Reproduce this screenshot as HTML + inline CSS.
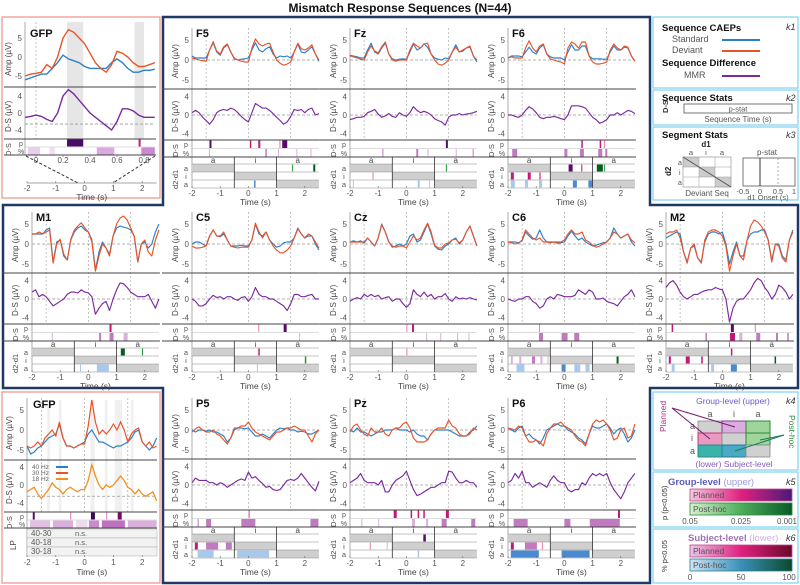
<!DOCTYPE html>
<html><head><meta charset="utf-8"><style>
body{margin:0;background:#fff;}
svg{display:block;font-family:"Liberation Sans",sans-serif;}
</style></head><body>
<svg id="fig" width="800" height="585" viewBox="0 0 800 585" xmlns="http://www.w3.org/2000/svg">
<defs>
<linearGradient id="gPlan" x1="0" x2="1"><stop offset="0" stop-color="#f6c8e0"/><stop offset="0.5" stop-color="#e0207e"/><stop offset="1" stop-color="#4a1a7a"/></linearGradient>
<linearGradient id="gPost" x1="0" x2="1"><stop offset="0" stop-color="#d8f0d0"/><stop offset="0.5" stop-color="#4cae5a"/><stop offset="1" stop-color="#0a5a2a"/></linearGradient>
<linearGradient id="sPlan" x1="0" x2="1"><stop offset="0" stop-color="#e8c8ec"/><stop offset="0.5" stop-color="#e0207e"/><stop offset="1" stop-color="#6a0a2a"/></linearGradient>
<linearGradient id="sPost" x1="0" x2="1"><stop offset="0" stop-color="#d0e4f4"/><stop offset="0.5" stop-color="#3a90b8"/><stop offset="1" stop-color="#0a4a2a"/></linearGradient>
</defs>
<text x="400" y="12" text-anchor="middle" font-size="12" font-weight="bold" fill="#111">Mismatch Response Sequences (N=44)</text>
<path d="M163,17 H650 V205 H798 V388 H650 V583 H163 V388 H3 V205 H163 Z" fill="none" stroke="#1f3864" stroke-width="2.5"/>
<rect x="2" y="17" width="158" height="181" fill="none" stroke="#f4a6a0" stroke-width="1.5"/>
<rect x="2" y="392" width="158" height="191" fill="none" stroke="#f4a6a0" stroke-width="1.5"/>

<g>
<rect x="653" y="17" width="145" height="71" fill="none" stroke="#7fd3f0" stroke-width="1.2"/>
<text x="662" y="31" font-size="9.5" font-weight="bold" fill="#111">Sequence CAEPs</text>
<text x="672" y="42" font-size="9" fill="#555">Standard</text>
<line x1="722" y1="40" x2="760" y2="40" stroke="#2a7fc9" stroke-width="2"/>
<text x="672" y="53" font-size="9" fill="#555">Deviant</text>
<line x1="722" y1="51" x2="760" y2="51" stroke="#e8542a" stroke-width="2"/>
<text x="662" y="66" font-size="9.5" font-weight="bold" fill="#111">Sequence Difference</text>
<text x="684" y="78" font-size="9" fill="#555">MMR</text>
<line x1="722" y1="76" x2="760" y2="76" stroke="#7b2a9e" stroke-width="2"/>
<text x="786" y="30" font-size="9" font-style="italic" fill="#333">k1</text>
</g>
<g>
<rect x="653" y="90" width="145" height="35" fill="none" stroke="#7fd3f0" stroke-width="1.2"/>
<text x="662" y="101" font-size="9.5" font-weight="bold" fill="#111">Sequence Stats</text>
<text x="786" y="101" font-size="9" font-style="italic" fill="#333">k2</text>
<rect x="684" y="104" width="108" height="9" fill="#fff" stroke="#555" stroke-width="0.8"/>
<text x="738" y="111.5" font-size="7.5" text-anchor="middle" fill="#555">p-stat</text>
<text transform="translate(668,113) rotate(-90)" font-size="7.5" font-weight="bold" fill="#333">D-S</text>
<text x="738" y="122" font-size="8" text-anchor="middle" fill="#555">Sequence Time (s)</text>
</g>
<g>
<rect x="653" y="127" width="145" height="73" fill="none" stroke="#7fd3f0" stroke-width="1.2"/>
<text x="662" y="138" font-size="9.5" font-weight="bold" fill="#111">Segment Stats</text>
<text x="786" y="138" font-size="9" font-style="italic" fill="#333">k3</text>
<text x="706" y="147" font-size="8" font-weight="bold" text-anchor="middle" fill="#222">d1</text>
<text x="691" y="155" font-size="7.5" text-anchor="middle" fill="#555">a</text>
<text x="706" y="155" font-size="7.5" text-anchor="middle" fill="#555">i</text>
<text x="722" y="155" font-size="7.5" text-anchor="middle" fill="#555">a</text>
<rect x="683" y="157" width="16" height="10" fill="#ccc"/><rect x="699" y="167" width="16" height="10" fill="#ccc"/><rect x="715" y="177" width="16" height="10" fill="#ccc"/>
<rect x="683" y="157" width="48" height="30" fill="none" stroke="#888" stroke-width="0.6"/>
<line x1="683" y1="167" x2="731" y2="167" stroke="#999" stroke-width="0.5"/><line x1="683" y1="177" x2="731" y2="177" stroke="#999" stroke-width="0.5"/>
<line x1="699" y1="157" x2="699" y2="187" stroke="#999" stroke-width="0.5"/><line x1="715" y1="157" x2="715" y2="187" stroke="#999" stroke-width="0.5"/>
<line x1="683" y1="157" x2="731" y2="187" stroke="#555" stroke-width="1"/>
<text transform="translate(671,176) rotate(-90)" font-size="8" font-weight="bold" fill="#222">d2</text>
<text x="678" y="165" font-size="7" fill="#555">a</text><text x="679" y="175" font-size="7" fill="#555">i</text><text x="678" y="185" font-size="7" fill="#555">a</text>
<text x="707" y="196" font-size="8" text-anchor="middle" fill="#555">Deviant Seq</text>
<text x="767" y="155" font-size="8" text-anchor="middle" fill="#555">p-stat</text>
<rect x="743" y="158" width="52" height="28" fill="#fff" stroke="#555" stroke-width="0.8"/>
<line x1="760" y1="158" x2="760" y2="186" stroke="#333" stroke-width="1"/>
<line x1="778" y1="158" x2="778" y2="186" stroke="#888" stroke-width="0.7" stroke-dasharray="2,2"/>
<text x="743" y="194" font-size="7.5" text-anchor="middle" fill="#555">-0.5</text><text x="760" y="194" font-size="7.5" text-anchor="middle" fill="#555">0</text><text x="778" y="194" font-size="7.5" text-anchor="middle" fill="#555">0.5</text><text x="794" y="194" font-size="7.5" text-anchor="middle" fill="#555">1</text>
<text x="768" y="200" font-size="7.5" text-anchor="middle" fill="#555">d1 Onset (s)</text>
</g>
<g>
<rect x="653" y="392" width="145" height="78" fill="none" stroke="#7fd3f0" stroke-width="1.2"/>
<text x="733" y="404" font-size="8.5" text-anchor="middle" fill="#6a5ac8">Group-level (upper)</text>
<text x="786" y="404" font-size="9" font-style="italic" fill="#333">k4</text>
<text x="710" y="417" font-size="9" text-anchor="middle" fill="#555">a</text><text x="734" y="417" font-size="9" text-anchor="middle" fill="#555">i</text><text x="758" y="417" font-size="9" text-anchor="middle" fill="#555">a</text>
<rect x="698" y="421" width="24" height="12" fill="#d0d0d0" stroke="#888" stroke-width="0.8"/>
<rect x="722" y="421" width="24" height="12" fill="#d9aedf" stroke="#8a3a9a" stroke-width="1"/>
<rect x="746" y="421" width="24" height="12" fill="#9fd49a" stroke="#2a8a3a" stroke-width="1"/>
<rect x="698" y="433" width="24" height="12" fill="#e99ac2" stroke="#d0307a" stroke-width="1"/>
<rect x="722" y="433" width="24" height="12" fill="#d0d0d0" stroke="#888" stroke-width="0.8"/>
<rect x="746" y="433" width="24" height="12" fill="#9fd49a" stroke="#2a8a3a" stroke-width="1"/>
<rect x="698" y="445" width="24" height="12" fill="#3ab4a8" stroke="#2a8a8a" stroke-width="1"/>
<rect x="722" y="445" width="24" height="12" fill="#4aaac4" stroke="#2a7a9a" stroke-width="1"/>
<rect x="746" y="445" width="24" height="12" fill="#d0d0d0" stroke="#888" stroke-width="0.8"/>
<text x="690" y="429" font-size="9" fill="#555">a</text><text x="691" y="441" font-size="9" fill="#555">i</text><text x="690" y="454" font-size="9" fill="#555">a</text>
<text transform="translate(666,432) rotate(-90)" font-size="8.5" fill="#b0308a">Planned</text>
<text transform="translate(789,415) rotate(90)" font-size="8.5" fill="#2a8a3a">Post-hoc</text>
<line x1="672" y1="408" x2="735" y2="427" stroke="#7a1a6a" stroke-width="1"/>
<line x1="672" y1="408" x2="710" y2="439" stroke="#7a1a6a" stroke-width="1"/>
<line x1="784" y1="435" x2="760" y2="440" stroke="#1a7a5a" stroke-width="1"/>
<line x1="784" y1="435" x2="735" y2="451" stroke="#1a7a5a" stroke-width="1"/>
<text x="734" y="467" font-size="8.5" text-anchor="middle" fill="#8a5ab8">(lower) Subject-level</text>
</g>
<g>
<rect x="653" y="472" width="145" height="55" fill="none" stroke="#7fd3f0" stroke-width="1.2"/>
<text x="668" y="485" font-size="9.5" font-weight="bold" fill="#5a5ab8">Group-level <tspan font-weight="normal" fill="#9a9ae0">(upper)</tspan></text>
<text x="786" y="485" font-size="9" font-style="italic" fill="#333">k5</text>
<rect x="690" y="489" width="102" height="12" fill="url(#gPlan)" stroke="#c04a8a" stroke-width="0.8"/>
<text x="693" y="498" font-size="8.5" fill="#555">Planned</text>
<rect x="690" y="503" width="102" height="12" fill="url(#gPost)" stroke="#2a8a3a" stroke-width="0.8"/>
<text x="693" y="512" font-size="8.5" fill="#555">Post-hoc</text>
<text x="690" y="524" font-size="8" text-anchor="middle" fill="#555">0.05</text><text x="741" y="524" font-size="8" text-anchor="middle" fill="#555">0.025</text><text x="787" y="524" font-size="8" text-anchor="middle" fill="#555">0.001</text>
<text transform="translate(667,520) rotate(-90)" font-size="7.5" fill="#333">p (p&lt;0.05)</text>
</g>
<g>
<rect x="653" y="529" width="145" height="54" fill="none" stroke="#7fd3f0" stroke-width="1.2"/>
<text x="688" y="541" font-size="9.5" font-weight="bold" fill="#a070b8">Subject-level <tspan font-weight="normal" fill="#d0b0e0">(lower)</tspan></text>
<text x="786" y="541" font-size="9" font-style="italic" fill="#333">k6</text>
<rect x="690" y="545" width="102" height="12" fill="url(#sPlan)" stroke="#c04a8a" stroke-width="0.8"/>
<text x="693" y="554" font-size="8.5" fill="#555">Planned</text>
<rect x="690" y="559" width="102" height="12" fill="url(#sPost)" stroke="#2a7a9a" stroke-width="0.8"/>
<text x="693" y="568" font-size="8.5" fill="#555">Post-hoc</text>
<text x="690" y="580" font-size="8" text-anchor="middle" fill="#555">0</text><text x="741" y="580" font-size="8" text-anchor="middle" fill="#555">50</text><text x="789" y="580" font-size="8" text-anchor="middle" fill="#555">100</text>
<text transform="translate(667,572) rotate(-90)" font-size="7.5" fill="#333">% p&lt;0.05</text>
</g>
</svg>
<script>
const T = [-2,-1.875,-1.75,-1.625,-1.5,-1.375,-1.25,-1.125,-1,-0.875,-0.75,-0.625,-0.5,-0.375,-0.25,-0.125,0,0.125,0.25,0.375,0.5,0.625,0.75,0.875,1,1.125,1.25,1.375,1.5,1.625,1.75,1.875,2,2.125,2.25,2.375,2.5];
const xTicks = [-2,-1,0,1,2];
const ampTicks = [5,0,-5];
const dsTicks = [4,0,-4];
const segLetters = [["a",-1.25],["i",0.25],["a",1.75]];

const F5_std = [1,0.5,0.5,0.5,0.5,2.5,4.3,2,1.2,3,3.8,2,0.3,0,0.2,0.3,0.5,2.5,4.3,2.5,2,2.8,3.3,1.5,0.5,1,0.8,1,0.5,2,4,2,1.8,2.5,3.3,1.5,-0.3];
const F5_dev = [0.5,0.3,0,-0.2,-0.3,2.5,4.6,2.2,1.5,3.3,4,2,0.5,0,-0.3,-0.5,-0.5,3,5.3,4,3.5,4,4.2,2,0,-0.8,-1.3,-1,-0.5,2,4.2,2.8,2.5,3,3.8,1.5,0];
const F5_mmr = [0.5,1,0.5,-0.5,-1.2,-2,-1,0.5,1,1.2,1,1.5,1.2,0.5,-0.3,-1,-1.5,0.5,2.5,2,1.5,1.5,1,0.3,-0.5,-1.2,-2,-1.5,-0.3,1.2,1,1.2,0.5,1.2,1.5,0,0.3];
const Fz_std = [1.2,1,0.8,0.5,0.5,2.5,4.2,2,1.5,3,4.2,1.5,0.3,0,0.2,0.3,0.2,2,4,2.5,3,4,3.2,1.5,0.5,0.2,0,0.5,0.3,2,3.8,2,2.2,3,3.2,1,-0.5];
const Fz_dev = [1,0.8,0.5,0.2,0,2,3.5,2.2,1.8,3.3,4.5,1.5,0,-0.3,0,0,0,2.5,4.2,3.5,3,4,4.2,1.5,0,-1,-1.3,-0.8,0,2,3.2,2,2.5,3,3.5,1,0];
const Fz_mmr = [-1,-0.8,-0.5,-0.5,-0.3,0.5,0.8,1.2,0.2,-0.5,-0.2,0.3,-0.3,-0.5,0.5,0,-0.3,0.5,1.8,1,0.5,0.8,0.5,0,-0.8,-1.2,-1.5,-2.2,-0.5,0,0,0.3,0,0.2,0.3,0.5,0.8];
const F6_std = [0.5,1,1,1,0.8,2,3.2,2,1.5,3,3.8,1.5,0.8,0.5,0.5,0.5,0,2,3.8,2.5,2.5,3.5,3.5,1,0.3,0.3,0.3,0.2,0.2,2,3.5,2.5,2.5,3.2,3,1,-0.3];
const F6_dev = [0.5,0.8,0.5,0.5,0.5,3,4.8,3,2,3.5,4,1.5,0.3,0,-0.3,-0.5,-1,3,4.5,4,3,4.5,4.5,1,-0.5,-1,-1,-0.8,-0.5,2.5,4,3,2.5,3.5,3.2,1,-0.3];
const F6_mmr = [0,0,-0.3,-0.5,0,1,1.8,1.3,0.5,-0.5,-0.8,-0.5,-0.5,-0.3,-0.5,-0.8,-1,0,2,2,2,1.8,1.5,0.5,-0.5,-1,-1.8,-1.5,-1,0,0,0.5,0,0.5,1,0.8,0.3];
const M1_std = [2.5,2.5,2.5,2.5,3.5,4,-4.5,0.5,1,-3,-4,1,3,4,4.5,3.5,3,1,-6.5,-2,0.5,-1,-2.5,2,4,4.5,4.2,4,3.5,2,-4.5,0,0.5,-1,0,3,5];
const M1_dev = [2.5,2.5,3,2.5,3,3.5,-4.8,0,1.2,-2.5,-4,1.2,3.5,4.5,5.3,4,3,0.5,-6.8,-3,0,-1,-3,2,5,6.5,7,6,4,2,-4.5,0,1,-2,-3,1,3.5];
const M1_mmr = [1.5,2,0.5,1,0.5,-0.5,-1.5,-1,-0.5,0,1,1.5,1.5,1.3,2,1.5,1.3,0.5,-3.3,-2,-1,-0.5,-2.5,0,2,3.5,3.3,2.5,1.5,1,0.5,0.5,0.5,1,-0.5,-2,0];
const C5_std = [0,0.5,0.5,0,-0.5,2,3.5,2,1.8,2.5,1,-0.5,-0.5,-0.5,-0.3,-0.5,-0.5,1,5,2.5,2,3,1,0,-0.8,-0.5,0.3,0.5,0.5,1.5,4,2.5,1.5,2,2,0,-1.5];
const C5_dev = [-0.5,-1,-1,-0.8,-0.5,2,3.5,2,2,3,1,-0.5,-0.8,-1,-0.8,-0.8,-0.8,1,5.2,3,1.5,3,1,-0.5,-1.5,-2.2,-2.2,-1.5,-0.5,1.5,3.8,2.5,1.5,2.5,2,0.5,-1];
const C5_mmr = [0,-0.5,-1.5,-1.5,-1,0,0.8,0.3,0.5,0,0.5,0.5,0,-0.3,0.3,0.5,-0.5,0.5,2.5,1,0.5,0.5,0,0,-0.5,-1,-1.5,-2.5,-1,1,1,0.5,0.5,0.8,1,0,0];
const Cz_std = [0.5,0.8,0.5,0.8,0.2,1.5,0.5,-0.5,1.5,5,3,0.5,-0.8,-0.5,0,-0.5,0,2,2.5,0.5,1,3,5,2.5,-0.5,-1.3,-1.5,-0.5,0,1,1.5,0,1,3,4.5,2,-0.5];
const Cz_dev = [0.5,0.5,0.5,0.5,0.5,1.5,0.5,-0.5,1.5,4.8,3,0.5,-0.5,-0.8,-0.5,-0.5,-1,0.5,2,1,1.5,3.5,5.2,3,-0.3,-1,-1,0,0.3,1,1.2,0.3,1,3,4.5,2,-0.5];
const Cz_mmr = [-0.5,0,0.3,0,1,0.5,1,0.5,0.8,0,0.3,0.5,-0.5,0,0,-1,-1.8,-1,2,1,0.5,1.5,0.5,1,0,0.5,0.5,1.2,0,-0.5,0.5,0,0.2,0,0.3,0,-0.2];
const C6_std = [0.5,0.5,0.5,0.3,0.8,3,2,1.2,1.5,3.5,1.5,0.5,0.5,0.5,0.2,0.3,0.5,2,3.2,2,1,1.5,0.5,0,-0.5,-0.3,0,0.3,0.5,1.5,4,2.5,1.5,2,2.5,0.5,-0.5];
const C6_dev = [0.5,0.3,0,0.2,1,3.5,2.5,1.5,1,1.5,0.5,0.5,0.3,0.5,0.5,0.5,1,2.5,3.5,2.5,2.5,3,1,0.5,-0.3,-0.8,-0.5,0,0.5,1.5,3,2.5,1.5,2,2.5,1,0.3];
const C6_mmr = [0,-0.3,-0.5,0,0,0.5,0.5,-0.5,-1,-2,-1.5,0,0.5,0,1,0.8,0.5,0.5,0.5,0.8,2,1.5,1,2,1.5,0,0,0.2,-0.5,-0.8,-1,-1.5,-0.5,0.5,1,2,0.5];
const M2_std = [1.5,2,2.5,3,2.5,-2,-4.5,-1,-0.5,-3.5,-4.5,0.5,2.5,3,3,2.5,3,0,-5,-2,0.5,-3,-3,1,2.5,3,3,3.5,3.5,1,-4,0,0,-3,-4,1,3.5];
const M2_dev = [2.5,3,3,3.5,1.5,-2,-4.8,-1,0,-3.5,-4.8,1,3,3.5,3.5,3,2,-0.5,-6.8,-3,0,-3,-4,1,4.5,6,5.5,4.5,3,1,-4.5,0,-0.5,-3.5,-4.5,1,3];
const M2_mmr = [2.5,3.5,4,3,1.5,0.5,0,0.5,1,1,1.5,1.8,2,2,2.5,2.2,2,0,-5,-2,-0.5,0,0,1,2,3.5,4.5,4,2.5,1.5,0,1,3,2.5,1.5,0,1];
const P5_std = [0,-0.5,0,0,-0.3,0,-0.5,-0.5,-1,-1.5,-3,-2,0,0.5,0.5,0.3,0.5,-0.5,-1.5,-1.5,-1,-1.5,-2,-1,0,0.5,0.3,0.5,0,0,-0.5,-0.3,-0.5,-1,-1,-0.5,0];
const P5_dev = [-0.5,0.3,0.8,0,-0.5,-0.5,0,-1,-1.5,-2.5,-3.5,-2,0.5,0.5,1,1,2,0.5,-0.5,-1,-1.5,-2,-2.5,-1.5,-0.5,-0.5,0,0.5,0.5,1,0.5,0,0,-1.5,-3,-1,0];
const P5_mmr = [0.5,1.5,1,1,1,0.5,0.5,0,0.5,0.2,-0.5,0,0.5,1,1.3,1,2.8,1.5,1.8,1,0.3,-0.5,-0.3,-1,-1.2,-1,0,1,1.2,1,1.5,2.5,1.5,0.5,-0.5,-1.3,0.8];
const Pz_std = [0,-0.5,0.5,-0.5,-0.5,-1,-1.5,-1,-0.5,-0.5,0,0,0,0.5,0,0,0,-0.5,0,-1,-1.5,-1.5,-2.5,-1,0,0,0,0,0,-0.5,-1,-1.5,-1.5,-1.5,-0.5,0,1];
const Pz_dev = [-0.5,1,1.5,0,-1,-1.5,0.5,-0.5,-0.5,0.5,-1,-1.5,0,0.5,0.5,1.5,2,0.5,-2,-3,-3,-3,-2.5,-1,0,0.5,0.5,0.5,2.5,1,0.5,-1,-1.5,-1.5,-1,0.5,0];
const Pz_mmr = [0.5,1,1.5,2.5,1,0.5,0.5,0.5,0,1,-1.5,-1.5,0,1,1.5,2,3,1,-1,-2.3,-2,-1.5,-1,-0.5,-0.5,0,0.5,0.5,3,2.8,1.5,0.5,0.5,1,0.5,0.5,-0.5];
const P6_std = [0.5,0,-0.5,0.5,1,-1.5,-1,-2,-2.5,-3.5,-2,0,0.5,1,1.5,1,1,0,-0.5,-1,-2,-2.5,-3.5,-1,1,0.5,0.5,1,1.5,0.5,-1,0,0.5,-1,-3,-2,0];
const P6_dev = [0.5,0.3,0,1,0.5,-1.5,-3,-3,-2.5,-3,-4,-1,0.5,1.5,1.5,2,1,0.5,0,-1.5,-2.5,-3,-4,-1,1.5,2.5,2,2.5,1.5,0,-2.5,-2,0,0.5,-2,-1.5,1.5];
const P6_mmr = [0.5,1,2.5,1.5,3,0.5,0.5,-0.5,0,0.5,0,-0.5,1,2,1,0.5,0.5,-1,-1.5,-1,-1,0.5,0,1.5,2.5,2,2.5,2,2.5,0.5,-1,-2,-3,-1.5,0.5,1.5,2.5];

const G1_t = [-0.08,-0.04,0,0.04,0.08,0.12,0.16,0.2,0.24,0.28,0.32,0.36,0.4,0.44,0.48,0.52,0.56,0.6,0.64,0.68,0.72,0.76,0.8,0.84,0.88];
const G1_std = [-6,-5.5,-5,-4.5,-4.5,-3,-1.5,0.5,-0.5,-1,-1.5,-2.5,-3,-3,-3,-3,-1.5,-0.5,-1.5,-3,-4,-4,-3.5,-3.5,-3.2];
const G1_dev = [-5,-4.5,-4.3,-4,-2,-3,0,5,7.2,6.5,5,3.5,1,-1.5,-3,-4,-2,1.5,1,0,-1.5,-2.5,-2.5,-2,-1.5];
const G1_mmr = [-1,-0.8,-0.5,-0.8,-1.5,-2,0,4,5.5,4.5,3,1.5,0,-1,-2,-3,-4,-2,1,1,0.5,-0.5,-1,-1,-1];
const G2_std = [-4,-6,-5.5,-4.5,-4,-3,-2,-1.5,-1,1.5,-2,-4,-4,-4.5,-4,-3.5,-3,-1,0,-1.5,-3,-3,-3.5,-4,-4.5,-4,-4,-3.5,-3,-2,-0.5,0,-3,-4,-5,-4,-2];
const G2_dev = [-4,-4.5,-4,-3,-4,-2,-1,0,-1.5,2,-2,-4,-4,-4.5,-4,-3.5,-3.5,1,7.5,2,-1,0,-1,0,1.5,0,2,0,-3,-1,0,0.5,-3,-4,-3,-4.5,-4];
const G2_mmr = [-1.5,-1,-0.5,-2,-3,-2,-1,0.5,-0.5,-1,-2,-1,-0.5,-1,-1.5,-1,-1,1,4.5,2,0,-1,0,-0.5,0,1,2,1,-0.5,-1,-2,-1,-2,-2.5,-2,-1.5,-3.5];

const COL = {m:"#c2187a",d:"#5a0a6a",l:"#dcb0dc",L:"#c07ac0",g:"#1e9a3a",G:"#0a5a20",b:"#a8c8ec",B:"#4a8ad0",p:"#ec7ab0"};
const chanMarks = {
 F5:{p:[[-1.38,2,'d'],[0.05,1.5,'m'],[0.35,2,'m'],[1.2,5,'d'],[1.1,1,'p']],q:[[-1.4,1,'l'],[0.6,1.5,'L'],[1.05,1,'l'],[1.7,1,'l'],[2.2,1,'l']],a:[[1.55,1,'g'],[2.3,2,'G']],i:[],b:[[0.2,1.5,'B']]},
 Fz:{p:[[1.4,2,'d']],q:[[-0.85,1,'L'],[0.35,2,'L'],[0.75,1,'l'],[1.75,1,'l'],[2.35,1,'L']],a:[[1.4,1,'g']],i:[[-1.2,1,'p']],b:[[-1.9,1,'b'],[0.4,2,'b'],[0.8,1,'b']]},
 F6:{p:[[0.6,1.5,'m'],[1.25,1.5,'m'],[1.4,1,'p']],q:[[-1.85,5,'L'],[0,3,'L'],[0.55,4,'L'],[1.2,4,'L'],[1.45,2,'L']],a:[[0.15,4,'d'],[0.6,1,'m'],[1.15,6,'G'],[1.4,1,'g']],i:[[-1.9,3,'m'],[-1.3,3,'m'],[-0.9,2,'p']],b:[[-1.9,4,'b'],[-1.4,3,'b'],[-0.9,3,'b'],[0.3,4,'B'],[0.85,4,'B']]},
 M1:{p:[[0.75,2,'m']],q:[[0.38,2,'L'],[0.75,4,'L'],[1.25,4,'l'],[-1.3,1,'l']],a:[[1.15,4,'G'],[1.9,1,'g']],i:[],b:[[0.3,12,'b'],[-0.3,1,'b']]},
 C5:{p:[[0.35,1,'p'],[1.25,3,'d']],q:[[1.8,1,'l']],a:[[0.35,1.5,'m']],i:[[2,1.5,'g']],b:[[0.3,1,'b']]},
 Cz:{p:[[0,1,'p'],[0.2,2,'m']],q:[[0.7,1,'l'],[1.2,1,'l'],[1.8,1,'l'],[2.2,1,'l']],a:[[0,1,'p']],i:[],b:[]},
 C6:{p:[[-0.9,1,'p']],q:[[-0.9,4,'L'],[-0.1,6,'L'],[0.35,5,'L']],a:[],i:[[-1.9,2,'l'],[-1.6,2,'l'],[-1.15,3,'L'],[-0.85,2,'l'],[-0.6,1,'l'],[1.85,2,'G']],b:[[-1.7,8,'b'],[-0.1,4,'B'],[0.35,6,'b'],[0.75,4,'b']]},
 M2:{p:[[-1.8,1.5,'m'],[0.3,3,'d'],[1.15,1,'p']],q:[[-0.6,1.5,'L'],[0.27,5,'m'],[0.6,3,'l'],[1.2,4,'L'],[1.9,2,'L'],[2.3,1.5,'L']],a:[[0.3,1.5,'m']],i:[[-1.9,2,'m'],[-1.3,4,'m'],[-0.75,1.5,'m'],[1.85,1.5,'G']],b:[[-1.8,3,'b'],[-0.4,3,'b'],[0.3,6,'B']]},
 P5:{p:[[0,1.5,'p']],q:[[-1.8,1,'L'],[-1.5,5,'L'],[-0.25,14,'L'],[2.2,8,'L']],a:[],i:[[-1.9,3,'m'],[-1.5,12,'L'],[-0.8,6,'L']],b:[[-1.8,16,'b'],[-0.4,32,'b']]},
 Pz:{p:[[-0.45,3,'m'],[0.15,1.5,'m'],[0.4,1.5,'m'],[0.6,1.5,'m'],[1.4,3,'m']],q:[[-1.6,1,'l'],[-1,1,'l'],[0.2,3,'l'],[0.7,2,'l'],[1.25,5,'L'],[2.3,4,'L']],a:[[0.6,2.5,'d']],i:[[-1.3,1,'p'],[-0.7,1,'l']],b:[[0.4,1.5,'b']]},
 P6:{p:[[1.9,2,'m']],q:[[-1.8,14,'L'],[0,6,'L'],[0.9,30,'L']],a:[],i:[[-1.9,3,'m'],[-1.4,12,'L'],[-0.8,1,'p']],b:[[-1.9,28,'B'],[-0.1,28,'B']]}
};

const NS = "http://www.w3.org/2000/svg";
const svg = document.getElementById("fig");
function el(tag, attrs, parent){const e=document.createElementNS(NS,tag);for(const k in attrs)e.setAttribute(k,attrs[k]);(parent||svg).appendChild(e);return e;}
function txt(s, attrs, parent){const e=el("text",attrs,parent);e.textContent=s;return e;}
function pathD(xs, ys, fx, fy){return xs.map((t,i)=>(i?"L":"M")+fx(t).toFixed(1)+","+fy(ys[i]).toFixed(1)).join("");}

function panel(name, x0, off, std, dev, mmr, mk){
  const g = el("g",{});
  
  
  const X = t => x0 + (t+2)*28.2;
  const YA = v => off+60 - v*4;
  const YD = v => off+115 - v*4.6;
  const xR = X(2.5);
  [-1.5,0,1.5].forEach(t=>{
    const gl = el("line",{x1:X(t),y1:off+28,x2:X(t),y2:off+140,stroke:"#aaa","stroke-width":0.7,"stroke-dasharray":"2,2"},g);
    
    
  });
  el("line",{x1:x0,y1:YA(0),x2:xR,y2:YA(0),stroke:"#999","stroke-width":0.8,"stroke-dasharray":"3,2"},g);
  el("line",{x1:x0,y1:YD(0),x2:xR,y2:YD(0),stroke:"#999","stroke-width":0.8,"stroke-dasharray":"3,2"},g);
  el("line",{x1:x0,y1:off+28,x2:x0,y2:off+188,stroke:"#888","stroke-width":0.7},g);
  ampTicks.forEach(v=>{
    const tk = txt(String(v),{x:x0-3,y:YA(v)+3,"font-size":8,"text-anchor":"end",fill:"#555"},g);
    
    
  });
  dsTicks.forEach(v=>{
    const tk = txt(String(v),{x:x0-3,y:YD(v)+3,"font-size":8,"text-anchor":"end",fill:"#555"},g);
    
    
  });
  const ya = txt("Amp (µV)",{transform:`translate(${x0-14},${off+78}) rotate(-90)`,"font-size":8,fill:"#444"},g);
  
  
  const yd = txt("D-S (µV)",{transform:`translate(${x0-14},${off+132}) rotate(-90)`,"font-size":8,fill:"#444"},g);
  
  
  [off+89,off+140,off+157].forEach(y=>{
    el("line",{x1:x0-30,y1:y,x2:xR+1,y2:y,stroke:"#444","stroke-width":1},g);
  });
  el("line",{x1:x0,y1:off+148.5,x2:xR,y2:off+148.5,stroke:"#bbb","stroke-width":0.6},g);
  const nl = txt(name,{x:x0+4,y:off+37,"font-size":11,"font-weight":"bold",fill:"#111"},g);
  
  
  const ls = el("path",{d:pathD(T,std,X,YA),fill:"none",stroke:"#2a7fc9","stroke-width":1.15,"stroke-linejoin":"round"},g);
  
  
  const ld = el("path",{d:pathD(T,dev,X,YA),fill:"none",stroke:"#e8542a","stroke-width":1.15,"stroke-linejoin":"round"},g);
  
  
  const lm = el("path",{d:pathD(T,mmr,X,YD),fill:"none",stroke:"#7b2a9e","stroke-width":1.15,"stroke-linejoin":"round"},g);
  
  
  txt("D-S",{transform:`translate(${x0-14},${off+157}) rotate(-90)`,"font-size":7.5,fill:"#444"},g);
  txt("p",{x:x0-6,y:off+147,"font-size":7,fill:"#555","text-anchor":"middle"},g);
  txt("%",{x:x0-6,y:off+156,"font-size":7,fill:"#555","text-anchor":"middle"},g);
  const drawMarks = (arr, y, h, nm) => arr.forEach(m=>{
    const r = el("rect",{x:X(m[0]),y:y,width:m[1],height:h,fill:COL[m[2]]},g);
    
    
  });
  drawMarks(mk.p, off+140.5, 7.5, 'p-stat-mark');
  drawMarks(mk.q, off+149, 7.5, 'percent-stat-mark');
  const rows=[off+164,off+172,off+180];
  el("rect",{x:X(-2),y:rows[0],width:X(-0.5)-X(-2),height:8,fill:"#cfcfcf"},g);
  el("rect",{x:X(-0.5),y:rows[1],width:X(1)-X(-0.5),height:8,fill:"#cfcfcf"},g);
  el("rect",{x:X(1),y:rows[2],width:X(2.5)-X(1),height:8,fill:"#cfcfcf"},g);
  drawMarks(mk.a, rows[0]+0.5, 7, 'segment-mark-a');
  drawMarks(mk.i, rows[1]+0.5, 7, 'segment-mark-i');
  drawMarks(mk.b, rows[2]+0.5, 7, 'segment-mark-a2');
  rows.concat([off+188]).forEach(y=>el("line",{x1:x0,y1:y,x2:xR,y2:y,stroke:"#888","stroke-width":0.6},g));
  [-0.5,1].forEach(t=>el("line",{x1:X(t),y1:off+157,x2:X(t),y2:off+188,stroke:"#333","stroke-width":0.8},g));
  segLetters.forEach(s=>txt(s[0],{x:X(s[1]),y:off+163,"font-size":8,"text-anchor":"middle",fill:"#444"},g));
  ["a","i","a"].forEach((s,i)=>txt(s,{x:x0-6,y:rows[i]+7,"font-size":7.5,"text-anchor":"middle",fill:"#555"},g));
  txt("d2-d1",{transform:`translate(${x0-14},${off+189}) rotate(-90)`,"font-size":7.5,fill:"#444"},g);
  xTicks.forEach(t=>{
    el("line",{x1:X(t),y1:off+188,x2:X(t),y2:off+186,stroke:"#666","stroke-width":0.6},g);
    const tk = txt(String(t),{x:X(t),y:off+196,"font-size":8,"text-anchor":"middle",fill:"#555"},g);
    
    
  });
  const xt = txt("Time (s)",{x:X(0.25),y:off+205,"font-size":8.5,"text-anchor":"middle",fill:"#444"},g);
  
  
}

panel("F5",192,0,F5_std,F5_dev,F5_mmr,chanMarks.F5);
panel("Fz",350,0,Fz_std,Fz_dev,Fz_mmr,chanMarks.Fz);
panel("F6",508,0,F6_std,F6_dev,F6_mmr,chanMarks.F6);
panel("M1",32,184,M1_std,M1_dev,M1_mmr,chanMarks.M1);
panel("C5",192,184,C5_std,C5_dev,C5_mmr,chanMarks.C5);
panel("Cz",350,184,Cz_std,Cz_dev,Cz_mmr,chanMarks.Cz);
panel("C6",508,184,C6_std,C6_dev,C6_mmr,chanMarks.C6);
panel("M2",666,184,M2_std,M2_dev,M2_mmr,chanMarks.M2);
panel("P5",192,370,P5_std,P5_dev,P5_mmr,chanMarks.P5);
panel("Pz",350,370,Pz_std,Pz_dev,Pz_mmr,chanMarks.Pz);
panel("P6",508,370,P6_std,P6_dev,P6_mmr,chanMarks.P6);

(function(){
  const g = el("g",{});
  
  
  const x0=25, X = t => 36 + t*135, YA = v => 57 - v*3.8, YD = v => 113 - v*4.25;
  [[0.23,0.35],[0.73,0.8]].forEach(s=>el("rect",{x:X(s[0]),y:22,width:X(s[1])-X(s[0]),height:117,fill:"#e6e6e6"},g));
  el("line",{x1:X(0),y1:22,x2:X(0),y2:139,stroke:"#aaa","stroke-width":0.7,"stroke-dasharray":"2,2"},g);
  el("line",{x1:x0,y1:YD(-2.6),x2:155,y2:YD(-2.6),stroke:"#999","stroke-width":0.8,"stroke-dasharray":"3,2"},g);
  el("line",{x1:x0,y1:22,x2:x0,y2:155,stroke:"#888","stroke-width":0.7},g);
  ampTicks.forEach(v=>txt(String(v),{x:x0-3,y:YA(v)+3,"font-size":8,"text-anchor":"end",fill:"#555"},g));
  dsTicks.forEach(v=>txt(String(v),{x:x0-3,y:YD(v)+3,"font-size":8,"text-anchor":"end",fill:"#555"},g));
  txt("Amp (µV)",{transform:"translate(11,76) rotate(-90)","font-size":8,fill:"#444"},g);
  txt("D-S (µV)",{transform:"translate(11,132) rotate(-90)","font-size":8,fill:"#444"},g);
  [87,139,155].forEach(y=>el("line",{x1:4,y1:y,x2:156,y2:y,stroke:"#444","stroke-width":1},g));
  el("line",{x1:x0,y1:147,x2:155,y2:147,stroke:"#bbb","stroke-width":0.6},g);
  txt("GFP",{x:30,y:37,"font-size":11,"font-weight":"bold",fill:"#111"},g);
  const a=el("path",{d:pathD(G1_t,G1_std,X,YA),fill:"none",stroke:"#2a7fc9","stroke-width":1.4},g);
  
  
  const b=el("path",{d:pathD(G1_t,G1_dev,X,YA),fill:"none",stroke:"#e8542a","stroke-width":1.4},g);
  
  
  const c=el("path",{d:pathD(G1_t,G1_mmr,X,YD),fill:"none",stroke:"#7b2a9e","stroke-width":1.4},g);
  
  
  txt("D-S",{transform:"translate(11,156) rotate(-90)","font-size":7.5,fill:"#444"},g);
  txt("p",{x:19,y:146,"font-size":7,fill:"#555"},g);
  txt("%",{x:18,y:154,"font-size":7,fill:"#555"},g);
  el("rect",{x:X(0.23),y:139.5,width:X(0.35)-X(0.23),height:7,fill:"#4a0a6a"},g);
  el("rect",{x:X(0.76),y:139.5,width:2,height:7,fill:"#c2187a"},g);
  [[-0.06,0.03,"#e8d0ec"],[0.45,0.58,"#d8aade"],[0.78,0.88,"#c88ad0"],[0.1,0.14,"#f0e0f0"]].forEach(s=>el("rect",{x:X(s[0]),y:147.5,width:X(s[1])-X(s[0]),height:7,fill:s[2]},g));
  [0,0.2,0.4,0.6,0.8].forEach(t=>{
    el("line",{x1:X(t),y1:155,x2:X(t),y2:157,stroke:"#666","stroke-width":0.6},g);
    txt(String(t),{x:X(t),y:163,"font-size":8,"text-anchor":"middle",fill:"#555"},g);
  });
  el("line",{x1:26,y1:156,x2:78,y2:183,stroke:"#333","stroke-width":1,"stroke-dasharray":"3,2"},g);
  el("line",{x1:155,y1:156,x2:113,y2:183,stroke:"#333","stroke-width":1,"stroke-dasharray":"3,2"},g);
  const XM = t => 27 + (t+2)*28.8;
  el("line",{x1:XM(-2),y1:183,x2:XM(2.5),y2:183,stroke:"#888","stroke-width":0.7},g);
  xTicks.forEach(t=>{
    el("line",{x1:XM(t),y1:183,x2:XM(t),y2:181,stroke:"#666","stroke-width":0.6},g);
    txt(String(t),{x:XM(t),y:191,"font-size":8,"text-anchor":"middle",fill:"#555"},g);
  });
  txt("Time (s)",{x:XM(0.25),y:200,"font-size":8.5,"text-anchor":"middle",fill:"#444"},g);
})();

(function(){
  const g = el("g",{});
  
  
  const x0=27, X = t => 27 + (t+2)*28.8, YA = v => 430 - v*4, YD = v => 485 - v*4.5;
  [[0.2,0.35],[1.05,1.3],[-1.3,-1.2],[-0.9,-0.8],[0.7,0.8],[1.6,1.7]].forEach(s=>el("rect",{x:X(s[0]),y:400,width:X(s[1])-X(s[0]),height:112,fill:"#f0f0f0"},g));
  [-1.5,0,1.5].forEach(t=>el("line",{x1:X(t),y1:398,x2:X(t),y2:512,stroke:"#aaa","stroke-width":0.7,"stroke-dasharray":"2,2"},g));
  el("line",{x1:x0,y1:YD(-2.5),x2:157,y2:YD(-2.5),stroke:"#999","stroke-width":0.8,"stroke-dasharray":"3,2"},g);
  el("line",{x1:x0,y1:398,x2:x0,y2:557,stroke:"#888","stroke-width":0.7},g);
  ampTicks.forEach(v=>txt(String(v),{x:x0-3,y:YA(v)+3,"font-size":8,"text-anchor":"end",fill:"#555"},g));
  dsTicks.forEach(v=>txt(String(v),{x:x0-3,y:YD(v)+3,"font-size":8,"text-anchor":"end",fill:"#555"},g));
  txt("Amp (µV)",{transform:"translate(12,450) rotate(-90)","font-size":8,fill:"#444"},g);
  txt("D-S (µV)",{transform:"translate(12,504) rotate(-90)","font-size":8,fill:"#444"},g);
  [460,512,528].forEach(y=>el("line",{x1:4,y1:y,x2:157,y2:y,stroke:"#444","stroke-width":1},g));
  el("line",{x1:x0,y1:520,x2:157,y2:520,stroke:"#bbb","stroke-width":0.6},g);
  txt("GFP",{x:33,y:408,"font-size":11,"font-weight":"bold",fill:"#111"},g);
  const a=el("path",{d:pathD(T,G2_std,X,YA),fill:"none",stroke:"#2a7fc9","stroke-width":1.2},g);
  
  
  const b=el("path",{d:pathD(T,G2_dev,X,YA),fill:"none",stroke:"#e8542a","stroke-width":1.2},g);
  
  
  const c=el("path",{d:pathD(T,G2_mmr,X,YD),fill:"none",stroke:"#f0901e","stroke-width":1.3},g);
  
  
  [["40 Hz","#2a7fc9"],["30 Hz","#e8542a"],["18 Hz","#f0901e"]].forEach((r,i)=>{
    txt(r[0],{x:32,y:469+i*6,"font-size":6.5,fill:"#666"},g);
    el("line",{x1:56,y1:467+i*6,x2:68,y2:467+i*6,stroke:r[1],"stroke-width":2},g);
  });
  txt("D-S",{transform:"translate(12,529) rotate(-90)","font-size":7.5,fill:"#444"},g);
  txt("p",{x:20,y:519,"font-size":7,fill:"#555"},g);
  txt("%",{x:19,y:527,"font-size":7,fill:"#555"},g);
  [[-1.8,2,"#5a0a6a"],[-0.5,1,"#ec7ab0"],[0.22,4,"#3a0a5a"],[0.75,1,"#ec7ab0"],[1.15,4,"#7a0a6a"]].forEach(m=>el("rect",{x:X(m[0]),y:512.5,width:m[1],height:7,fill:m[2]},g));
  [[-1.9,-1.2,"#e2c0e4"],[-1.1,-0.4,"#dcb0dc"],[-0.3,0.1,"#eedcee"],[0.15,0.5,"#cc88cc"],[0.6,1.4,"#c070c0"],[1.5,2.5,"#dcb0dc"]].forEach(s=>el("rect",{x:X(s[0]),y:520.5,width:X(s[1])-X(s[0]),height:7,fill:s[2]},g));
  ["40-30","40-18","30-18"].forEach((s,i)=>{
    el("rect",{x:x0,y:529+i*9,width:130,height:9,fill:"#f2f2f2",stroke:"#aaa","stroke-width":0.5},g);
    txt(s,{x:31,y:536+i*9,"font-size":8,fill:"#555"},g);
    txt("n.s.",{x:75,y:536+i*9,"font-size":7.5,fill:"#555"},g);
  });
  txt("LP",{transform:"translate(16,550) rotate(-90)","font-size":8,fill:"#444"},g);
  xTicks.forEach(t=>{
    el("line",{x1:X(t),y1:557,x2:X(t),y2:555,stroke:"#666","stroke-width":0.6},g);
    txt(String(t),{x:X(t),y:565,"font-size":8,"text-anchor":"middle",fill:"#555"},g);
  });
  txt("Time (s)",{x:X(0.25),y:575,"font-size":8.5,"text-anchor":"middle",fill:"#444"},g);
})();
</script>
</body></html>
